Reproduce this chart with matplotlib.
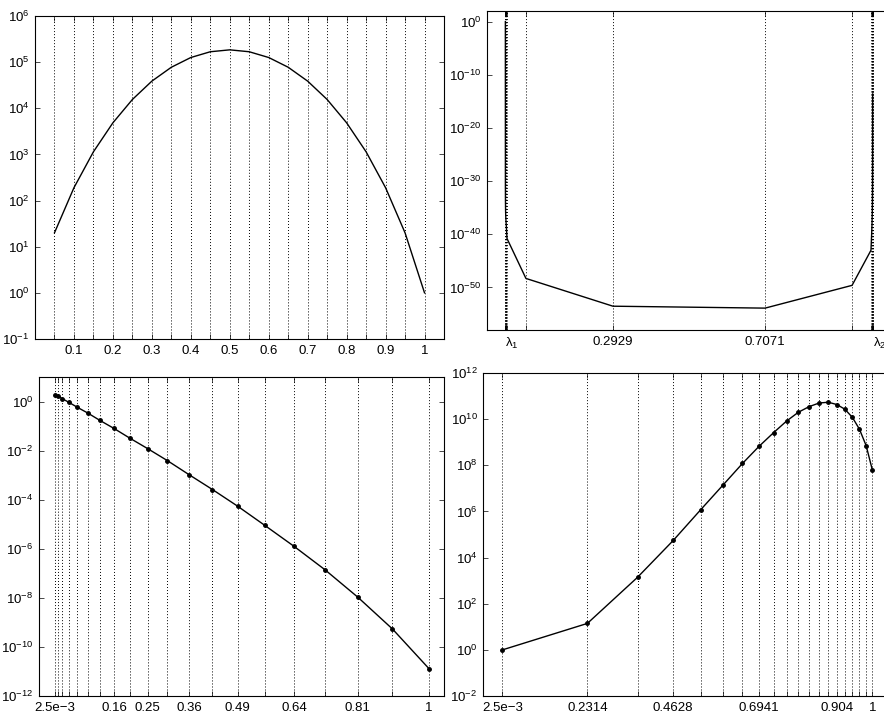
import numpy as np
import matplotlib
matplotlib.use("Agg")
import matplotlib.pyplot as plt

plt.rcParams['font.family'] = 'Liberation Sans'
plt.rcParams['font.size'] = 9.5
plt.rcParams['mathtext.fontset'] = 'custom'
plt.rcParams['mathtext.rm'] = 'Liberation Sans'
plt.rcParams['mathtext.it'] = 'Liberation Sans:italic'
plt.rcParams['mathtext.sf'] = 'Liberation Sans'
plt.rcParams['axes.linewidth'] = 0.8

# top left: values on the 20 equispaced nodes
tl_x = [0.05, 0.1, 0.15, 0.2, 0.25, 0.3, 0.35, 0.4, 0.45, 0.5,
        0.55, 0.6, 0.65, 0.7, 0.75, 0.8, 0.85, 0.9, 0.95, 1.0]
tl_y = [20, 190, 1140, 4845, 15504, 38760, 77520, 125970, 167960, 184756,
        167960, 125970, 77520, 38760, 15504, 4845, 1140, 190, 20, 1]
tl_labels = ["", "0.1", "", "0.2", "", "0.3", "", "0.4", "", "0.5",
             "", "0.6", "", "0.7", "", "0.8", "", "0.9", "", "1"]
tl_yticks = [1e-1, 1e0, 1e1, 1e2, 1e3, 1e4, 1e5, 1e6]
tl_ylabels = ["$10^{-1}$", "$10^{0}$", "$10^{1}$", "$10^{2}$",
              "$10^{3}$", "$10^{4}$", "$10^{5}$", "$10^{6}$"]

# top right: clustered nodes lambda_1 .. lambda_20
tr_x = [0.0, 0.0001, 0.0003, 0.0006, 0.001, 0.0017, 0.0027, 0.0045, 0.056, 0.2929,
        0.7071, 0.944, 0.9955, 0.9973, 0.9983, 0.999, 0.9994, 0.9997, 0.9999, 1.0]
tr_y = [1e0, 1e-31, 1e-34, 3e-36, 3e-37, 3e-38, 3e-39, 1.6e-41, 5e-49, 3e-54,
        1.3e-54, 2.5e-50, 1e-43, 1e-40, 1e-38, 1e-36, 1e-34, 1e-31, 1e-26, 2.5e-14]
tr_labels = ["λ$_1$"] + [""] * 8 + ["0.2929", "0.7071"] + [""] * 8 + ["λ$_{20}$"]
tr_yticks = [1e-50, 1e-40, 1e-30, 1e-20, 1e-10, 1e0]
tr_ylabels = ["$10^{-50}$", "$10^{-40}$", "$10^{-30}$", "$10^{-20}$", "$10^{-10}$", "$10^{0}$"]

# bottom left: squared nodes
bl_x = [0.0025, 0.01, 0.0225, 0.04, 0.0625, 0.09, 0.1225, 0.16, 0.2025, 0.25,
        0.3025, 0.36, 0.4225, 0.49, 0.5625, 0.64, 0.7225, 0.81, 0.9025, 1.0]
bl_y = [1.9, 1.7, 1.3, 0.92, 0.58, 0.34, 0.17, 0.08, 0.032, 0.012,
        3.9e-3, 1.05e-3, 2.6e-4, 5.4e-5, 8.9e-6, 1.26e-6, 1.4e-7, 1.07e-8, 5.4e-10, 1.3e-11]
bl_labels = ["2.5e\u22123", "", "", "", "", "", "", "0.16", "", "0.25",
             "", "0.36", "", "0.49", "", "0.64", "", "0.81", "", "1"]
bl_yticks = [1e-12, 1e-10, 1e-8, 1e-6, 1e-4, 1e-2, 1e0]
bl_ylabels = ["$10^{-12}$", "$10^{-10}$", "$10^{-8}$", "$10^{-6}$",
              "$10^{-4}$", "$10^{-2}$", "$10^{0}$"]

# bottom right: log-spaced nodes
br_x = [0.0025, 0.2314, 0.3667, 0.4628, 0.5372, 0.5981, 0.6496, 0.6941, 0.7335, 0.7686,
        0.8004, 0.8295, 0.8562, 0.8809, 0.904, 0.9255, 0.9458, 0.9648, 0.9829, 1.0]
br_y = [1.0, 14, 1.4e3, 5.5e4, 1.2e6, 1.45e7, 1.2e8, 6.6e8, 2.6e9, 8.3e9,
        2.0e10, 3.5e10, 5.0e10, 5.4e10, 4.3e10, 2.7e10, 1.2e10, 3.7e9, 7.2e8, 6.0e7]
br_labels = ["2.5e\u22123", "0.2314", "", "0.4628", "", "", "", "0.6941", "", "",
             "", "", "", "", "0.904", "", "", "", "", "1"]
br_yticks = [1e-2, 1e0, 1e2, 1e4, 1e6, 1e8, 1e10, 1e12]
br_ylabels = ["$10^{-2}$", "$10^{0}$", "$10^{2}$", "$10^{4}$",
              "$10^{6}$", "$10^{8}$", "$10^{10}$", "$10^{12}$"]


def style(ax, xt, xl, yt, yl):
    ax.set_yscale("log")
    ax.set_xticks(xt)
    ax.set_xticklabels(xl)
    ax.set_yticks(yt)
    ax.set_yticklabels(yl)
    ax.minorticks_off()
    ax.tick_params(direction="in", top=True, right=True, length=3.5, width=0.5, pad=4)
    # matlab style dotted grid: ~1px dot, ~2px gap
    ax.grid(True, axis="x", linestyle=(0, (1.0, 2.1)), color="k", linewidth=0.7)
    ax.set_axisbelow(True)


fig = plt.figure(figsize=(8.84, 7.15), dpi=100)

ax1 = fig.add_axes([35/884, 1-339/715, 409/884, 323/715])
ax1.plot(tl_x, tl_y, "k-", lw=1.0)
style(ax1, tl_x, tl_labels, tl_yticks, tl_ylabels)
ax1.set_xlim(0, 1.05)
ax1.set_ylim(1e-1, 1e6)

ax2 = fig.add_axes([487/884, 1-330/715, 404/884, 319/715])
ax2.plot(tr_x, tr_y, "k-", lw=1.0)
style(ax2, tr_x, tr_labels, tr_yticks, tr_ylabels)
ax2.set_xlim(-0.05, 1.05)
ax2.set_ylim(1e-58, 1e2)
lab = ax2.get_xticklabels()
lab[0].set_ha("left")
lab[-1].set_ha("left")

ax3 = fig.add_axes([39/884, 1-696/715, 405/884, 319/715])
ax3.plot(bl_x, bl_y, "k.-", lw=1.0, ms=5)
style(ax3, bl_x, bl_labels, bl_yticks, bl_ylabels)
ax3.set_xlim(-0.04, 1.04)
ax3.set_ylim(1e-12, 1e1)

ax4 = fig.add_axes([483/884, 1-696/715, 408/884, 323/715])
ax4.plot(br_x, br_y, "k.-", lw=1.0, ms=5)
style(ax4, br_x, br_labels, br_yticks, br_ylabels)
ax4.set_xlim(-0.05, 1.05)
ax4.set_ylim(1e-2, 1e12)

fig.savefig("out.png", dpi=100)
